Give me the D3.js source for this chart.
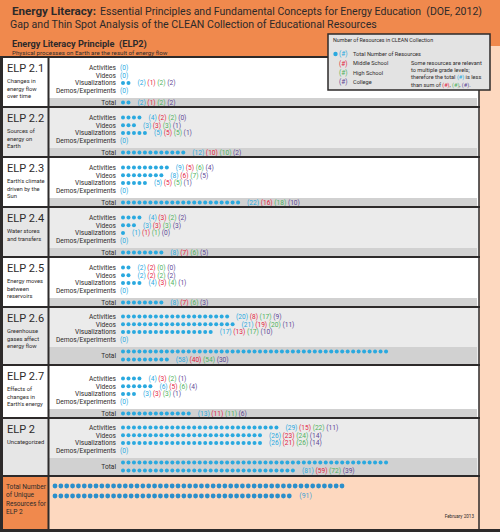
<!DOCTYPE html>
<html>
<head>
<meta charset="utf-8">
<script src="https://cdn.jsdelivr.net/npm/d3@7"></script>
<style>
  body { margin: 0; background: #f0894d; }
  svg { display: block; font-family: Roboto, "Noto Sans", sans-serif; }
</style>
</head>
<body>
<svg width="500" height="532"></svg>
<script>
const principles = ["ELP 2.1", "ELP 2.2", "ELP 2.3", "ELP 2.4", "ELP 2.5", "ELP 2.6", "ELP 2.7", "ELP 2"]
const descriptions = [
  ["Changes in", "energy flow", "over time"],
  ["Sources of", "energy on", "Earth"],
  ["Earth's climate", "driven by the", "Sun"],
  ["Water stores", "and transfers"],
  ["Energy moves", "between", "reservoirs"],
  ["Greenhouse", "gases affect", "energy flow"],
  ["Effects of", "changes in", "Earth's energy"],
  ["Uncategorized"]
]
const resourceTypes = ["Activities", "Videos", "Visualizations", "Demos/Experiments"]
const levels = ["Total Number of Resources", "Middle School", "High School", "College"]

// [total, middle school, high school, college]
const activities = [[0, 0, 0, 0], [4, 2, 2, 0], [9, 5, 6, 4], [4, 3, 2, 2], [2, 2, 0, 0], [20, 8, 17, 9], [4, 3, 2, 1], [29, 15, 22, 11]]
const videos = [[0, 0, 0, 0], [3, 3, 3, 1], [8, 6, 7, 5], [3, 3, 3, 3], [2, 2, 2, 2], [21, 19, 20, 11], [6, 5, 6, 4], [26, 23, 24, 14]]
const visualizations = [[2, 1, 2, 2], [5, 5, 5, 1], [5, 5, 5, 1], [1, 1, 1, 0], [4, 3, 4, 1], [17, 13, 17, 10], [3, 3, 3, 1], [26, 21, 26, 14]]
const demos = [[0, 0, 0, 0], [0, 0, 0, 0], [0, 0, 0, 0], [0, 0, 0, 0], [0, 0, 0, 0], [0, 0, 0, 0], [0, 0, 0, 0], [0, 0, 0, 0]]
const totals = [[2, 1, 2, 2], [12, 10, 10, 2], [22, 16, 18, 10], [8, 7, 6, 5], [8, 7, 6, 3], [58, 40, 54, 30], [13, 11, 11, 6], [81, 59, 72, 39]]
const uniqueTotal = 91

const levelColours = ["#2aa9df", "#e4233f", "#4fb25e", "#5d4796"]
const orange = "#f0894d"
const peach = "#fdd8bf"
const dark = "#2d2a2a"

const svg = d3.select('svg')
const width = +svg.attr('width')
const height = +svg.attr('height')

const labelX = 116
const dotsPerRow = 49
const sectionHeights = [50, 50, 50, 50, 50, 58, 53, 58]
const tableTop = 57

// squeeze a text horizontally (the original uses a narrow font)
let squeeze = (sel, factor) => {
  sel.each(function() {
    let len = this.getComputedTextLength()
    d3.select(this).attr('textLength', len * factor).attr('lengthAdjust', 'spacingAndGlyphs')
  })
  return sel
}
// shrink the font size until the text fits a width
let fitFont = (sel, w) => {
  let size = parseFloat(sel.style('font-size'))
  let len = sel.node().getComputedTextLength()
  if (len > w) sel.style('font-size', (size * w / len) + 'px')
  return sel
}

// scales for the dots
const xDot = d3.scaleLinear().domain([0, dotsPerRow - 1]).range([123, 123 + (dotsPerRow - 1) * 5.48])
const xUnique = d3.scaleLinear().domain([0, 49]).range([55, 342])

svg.append('rect').attr('width', width).attr('height', height).attr('fill', orange)
svg.append('rect').attr('x', 479).attr('y', 46).attr('width', 21).attr('height', 483).attr('fill', peach)

// header
fitFont(svg.append('text').attr('x', 12).attr('y', 15).attr('fill', dark).style('font-size', '12px')
  .style('font-weight', 'bold').text('Energy Literacy:'), 84)
fitFont(svg.append('text').attr('x', 100).attr('y', 15).attr('fill', dark).style('font-size', '12px')
  .text('Essential Principles and Fundamental Concepts for Energy Education \u00a0(DOE, 2012)'), 382)
fitFont(svg.append('text').attr('x', 10).attr('y', 28).attr('fill', dark).style('font-size', '12px')
  .text('Gap and Thin Spot Analysis of the CLEAN Collection of Educational Resources'), 367)
fitFont(svg.append('text').attr('x', 12).attr('y', 47).attr('fill', dark).style('font-size', '9.5px').style('font-weight', 'bold')
  .text('Energy Literacy Principle \u00a0(ELP2)'), 135)
fitFont(svg.append('text').attr('x', 12).attr('y', 54.5).attr('fill', dark).style('font-size', '6.2px')
  .text('Physical processes on Earth are the result of energy flow'), 171)

let tops = []
let acc = tableTop
sectionHeights.forEach((h) => { tops.push(acc); acc += h })
const uniqueTop = acc
const tableBottom = 529

// measure the narrow factors once
let probe = svg.append('text').style('font-size', '6.8px').text('Demos/Experiments')
const labelFactor = Math.min(1, 60 / probe.node().getComputedTextLength())
probe.style('font-size', '5.8px').text("Earth's energy")
const descFactor = Math.min(1, 36 / probe.node().getComputedTextLength())
probe.remove()

let numbers = (g, x, y, vals) => {
  let txt = g.append('text').attr('x', x).attr('y', y).attr('dy', '0.35em').style('font-size', '6.6px')
  let shown = vals[0] === 0 ? [0] : vals
  shown.forEach((v, i) => {
    txt.append('tspan').attr('fill', levelColours[i]).text((i > 0 ? '\u00a0' : '') + '(' + v + ')')
  })
}

let dotRow = (g, y, count) => {
  let idx = d3.range(count)
  g.selectAll(null).data(idx).enter().append('circle')
    .attr('cx', (d) => xDot(d % dotsPerRow))
    .attr('cy', (d) => y + Math.floor(d / dotsPerRow) * 8)
    .attr('r', 2)
    .attr('fill', levelColours[0])
}

principles.forEach((name, s) => {
  let top = tops[s]
  let bottom = top + sectionHeights[s]
  let shade = s % 2 === 1
  let g = svg.append('g')
  g.append('rect').attr('x', 2).attr('y', top).attr('width', 47).attr('height', bottom - top)
    .attr('fill', shade ? '#e6e6e6' : '#fff')
  g.append('rect').attr('x', 49).attr('y', top).attr('width', 430).attr('height', bottom - top)
    .attr('fill', shade ? '#ebebeb' : '#fff')

  let totalRows = Math.ceil(totals[s][0] / dotsPerRow)
  let bandH = totalRows > 1 ? 18 : 9
  let bandTop = bottom - bandH
  g.append('rect').attr('x', 49).attr('y', bandTop).attr('width', 428).attr('height', bandH).attr('fill', '#d1d1d1')

  g.append('text').attr('x', 7).attr('y', top + 15).attr('fill', dark).style('font-size', '11px').text(name)
  descriptions[s].forEach((line, i) => {
    squeeze(g.append('text').attr('x', 7).attr('y', top + 26 + i * 7.5).attr('fill', dark)
      .style('font-size', '5.8px').text(line), descFactor)
  })

  let rows = [activities[s], videos[s], visualizations[s], demos[s]]
  rows.forEach((vals, r) => {
    let y = bandTop - 30.5 + r * 7.7
    squeeze(g.append('text').attr('x', labelX).attr('y', y).attr('dy', '0.35em').attr('text-anchor', 'end')
      .attr('fill', dark).style('font-size', '6.8px').text(resourceTypes[r]), labelFactor)
    dotRow(g, y, vals[0])
    let lastX = vals[0] > 0 ? xDot(vals[0] - 1) + 9 : 120
    numbers(g, lastX, y, vals)
  })

  let ty = bandTop + 4.5
  squeeze(g.append('text').attr('x', labelX).attr('y', totalRows > 1 ? ty + 4 : ty).attr('dy', '0.35em').attr('text-anchor', 'end')
    .attr('fill', dark).style('font-size', '6.8px').text('Total'), labelFactor)
  dotRow(g, ty, totals[s][0])
  let lastRowCount = totals[s][0] - (totalRows - 1) * dotsPerRow
  numbers(g, xDot(lastRowCount - 1) + 9, ty + (totalRows - 1) * 8, totals[s])
})

// unique resources
svg.append('rect').attr('x', 2).attr('y', uniqueTop).attr('width', 47).attr('height', tableBottom - uniqueTop).attr('fill', orange)
svg.append('rect').attr('x', 49).attr('y', uniqueTop).attr('width', 430).attr('height', tableBottom - uniqueTop).attr('fill', peach)
;["Total Number", "of Unique", "Resources for", "ELP 2"].forEach((line, i) => {
  fitFont(svg.append('text').attr('x', 6).attr('y', uniqueTop + 13 + i * 8.3).attr('fill', dark)
    .style('font-size', '6.6px').text(line), 40)
})
svg.append('g').selectAll('circle').data(d3.range(uniqueTotal)).enter().append('circle')
  .attr('cx', (d) => xUnique(d % 50))
  .attr('cy', (d) => uniqueTop + 10 + Math.floor(d / 50) * 10)
  .attr('r', 2.4)
  .attr('fill', '#2b8fcb')
svg.append('text').attr('x', xUnique((uniqueTotal - 1) % 50) + 10).attr('y', uniqueTop + 20).attr('dy', '0.35em')
  .attr('fill', '#3f9fd6').style('font-size', '7px').text('(' + uniqueTotal + ')')
svg.append('text').attr('x', 474).attr('y', uniqueTop + 42).attr('text-anchor', 'end').attr('fill', dark)
  .style('font-size', '4.6px').text('February 2013')

// grid lines
let lines = svg.append('g').attr('stroke', dark).attr('fill', 'none')
tops.concat([uniqueTop]).forEach((y) => {
  lines.append('line').attr('x1', 0).attr('x2', 480).attr('y1', y).attr('y2', y).attr('stroke-width', 2)
})
lines.append('line').attr('x1', 1.5).attr('x2', 1.5).attr('y1', tableTop).attr('y2', height).attr('stroke-width', 3)
lines.append('line').attr('x1', 48.5).attr('x2', 48.5).attr('y1', tableTop).attr('y2', tableBottom).attr('stroke-width', 2)
lines.append('line').attr('x1', 479).attr('x2', 479).attr('y1', tableTop).attr('y2', tableBottom).attr('stroke-width', 1.5)
lines.append('line').attr('x1', 0).attr('x2', width).attr('y1', 530.5).attr('y2', 530.5).attr('stroke-width', 3)

// legend
let legend = svg.append('g').attr('transform', 'translate(328, 34)')
legend.append('rect').attr('width', 162).attr('height', 56).attr('fill', '#e3e3e3')
  .attr('stroke', dark).attr('stroke-width', 1.5)
fitFont(legend.append('text').attr('x', 5).attr('y', 8).attr('fill', dark)
  .style('font-size', '6.4px').text('Number of Resources in CLEAN Collection'), 100)
levels.forEach((lvl, i) => {
  let y = 20 + i * 9.4
  if (i === 0) {
    legend.append('circle').attr('cx', 7.5).attr('cy', y).attr('r', 2.2).attr('fill', levelColours[0])
  }
  legend.append('text').attr('x', 11).attr('y', y).attr('dy', '0.35em').attr('fill', levelColours[i])
    .style('font-size', '6.5px').text('(#)')
  legend.append('text').attr('x', 25).attr('y', y + 2).attr('fill', dark)
    .style('font-size', '5.6px').text(lvl)
})
let note = legend.append('g').style('font-size', '5.6px').attr('fill', dark)
let noteLines = [
  [['Some resources are relevant', null]],
  [['to multiple grade levels;', null]],
  [['therefore the total ', null], ['(#)', 0], [' is less', null]],
  [['than sum of ', null], ['(#)', 1], [', ', null], ['(#)', 2], [', ', null], ['(#)', 3], ['.', null]]
]
noteLines.forEach((parts, i) => {
  let t = note.append('text').attr('x', 83).attr('y', 28.7 + i * 7.4).attr('dy', '0.35em')
  parts.forEach((p) => {
    t.append('tspan').attr('fill', p[1] === null ? dark : levelColours[p[1]]).text(p[0].replace(/ /g, '\u00a0'))
  })
})
</script>
</body>
</html>
